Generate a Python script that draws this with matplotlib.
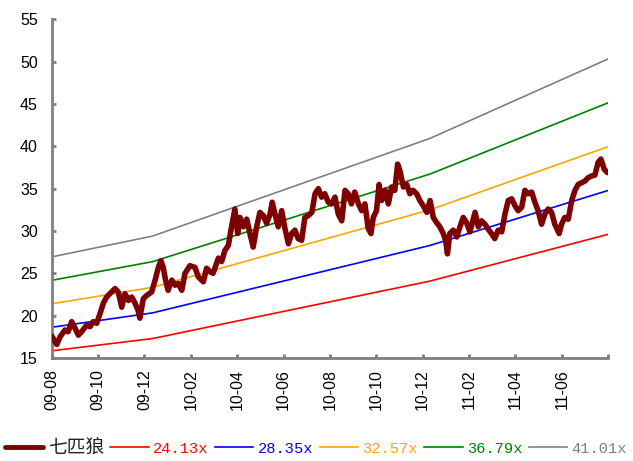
import matplotlib
matplotlib.use('Agg')
import matplotlib.pyplot as plt
from matplotlib.font_manager import FontProperties

# 时间轴：距 2009-08 的月数
t_month = [0.00, 0.22, 0.36, 0.57, 0.71, 0.86, 1.01, 1.15, 1.29, 1.51, 1.65, 1.79, 1.94,
           2.09, 2.23, 2.37, 2.51, 2.73, 2.87, 3.02, 3.16, 3.31, 3.45, 3.59, 3.73, 3.80,
           3.95, 4.10, 4.31, 4.46, 4.60, 4.71, 4.81, 4.91, 5.02, 5.18, 5.32, 5.46, 5.61,
           5.75, 5.96, 6.18, 6.32, 6.54, 6.68, 6.82, 6.96, 7.19, 7.33, 7.47, 7.62, 7.73,
           7.83, 7.90, 8.02, 8.12, 8.27, 8.41, 8.55, 8.69, 8.84, 8.98, 9.13, 9.27, 9.42,
           9.51, 9.63, 9.77, 9.92, 10.06, 10.21, 10.35, 10.49, 10.63, 10.78, 10.92, 11.06,
           11.22, 11.36, 11.50, 11.64, 11.78, 11.93, 12.07, 12.22, 12.36, 12.51, 12.65,
           12.79, 12.93, 13.07, 13.23, 13.37, 13.51, 13.65, 13.77, 13.87, 14.01, 14.12,
           14.23, 14.38, 14.52, 14.66, 14.80, 14.92, 15.02, 15.17, 15.31, 15.45, 15.59,
           15.74, 15.88, 16.02, 16.18, 16.32, 16.46, 16.60, 16.74, 16.89, 16.99, 17.07,
           17.17, 17.32, 17.47, 17.61, 17.75, 17.89, 18.04, 18.26, 18.40, 18.54, 18.69,
           18.83, 18.97, 19.11, 19.26, 19.41, 19.55, 19.69, 19.84, 19.98, 20.12, 20.27,
           20.41, 20.55, 20.70, 20.84, 20.98, 21.13, 21.27, 21.42, 21.56, 21.70, 21.89,
           21.99, 22.13, 22.28, 22.43, 22.57, 22.71, 22.85, 23.00, 23.14, 23.29, 23.43,
           23.57, 23.69, 23.83, 23.97]

price = [17.6, 16.6, 17.5, 18.3, 18.1, 19.3, 18.5, 17.7, 18.1, 18.9, 18.7, 19.3, 19.1,
         20.3, 21.5, 22.2, 22.6, 23.2, 22.8, 21.0, 22.6, 21.8, 22.2, 21.5, 20.6, 19.7,
         22.0, 22.4, 22.8, 24.2, 25.7, 26.5, 25.7, 24.2, 23.0, 24.2, 23.6, 23.8, 23.0,
         25.0, 25.9, 25.7, 24.6, 24.0, 25.6, 25.2, 25.0, 26.8, 26.4, 27.7, 28.3, 30.1,
         31.6, 32.6, 29.7, 31.6, 30.5, 31.4, 29.7, 28.1, 30.5, 32.2, 31.8, 30.9, 32.0,
         33.4, 32.0, 30.5, 32.4, 30.3, 28.5, 29.7, 30.1, 29.1, 28.9, 31.6, 31.8,
         32.2, 34.4, 35.0, 34.0, 34.4, 33.4, 33.2, 34.0, 32.0, 31.2, 34.8,
         34.4, 33.2, 34.6, 33.2, 32.4, 33.2, 30.3, 29.7, 31.6, 32.4, 35.5,
         33.6, 34.8, 33.2, 35.2, 34.8, 37.9, 37.1, 35.2, 35.5, 34.4, 34.8,
         34.4, 33.6, 33.0, 32.2, 33.6, 31.6, 31.0, 30.5, 29.7, 28.9, 27.3,
         29.7, 30.1, 29.3, 30.5, 31.6, 31.0, 29.9, 32.2, 30.5, 31.2, 30.8,
         30.2, 29.7, 29.1, 30.1, 29.9, 32.0, 33.6, 33.8, 33.0, 32.4, 32.8,
         34.8, 34.4, 34.6, 33.4, 32.4, 30.8, 32.0, 32.6, 32.2, 30.8, 29.7,
         30.8, 31.6, 31.4, 33.6, 34.8, 35.5, 35.7, 35.9, 36.3, 36.5, 36.6,
         38.1, 38.5, 37.3, 36.9]

# PE 通道线拐点
band_t = [0.0, 4.35, 16.31, 24.0]
pe_24 = [15.85, 17.30, 24.08, 29.61]
pe_28 = [18.63, 20.33, 28.29, 34.79]
pe_32 = [21.40, 23.35, 32.50, 39.96]
pe_36 = [24.17, 26.38, 36.72, 45.14]
pe_41 = [26.94, 29.40, 40.93, 50.32]

band_labels = ['24.13x', '28.35x', '32.57x', '36.79x', '41.01x']
band_colors = ['#FF0000', '#0000FF', '#FFA500', '#008000', '#808080']

tick_pos = [0, 2, 4, 6, 8, 10, 12, 14, 16, 18, 20, 22, 24]
tick_labels = ['09-08', '09-10', '09-12', '10-02', '10-04', '10-06', '10-08',
               '10-10', '10-12', '11-02', '11-04', '11-06', '']

plt.rcParams['font.family'] = ['Liberation Sans', 'DejaVu Sans']

fig = plt.figure(figsize=(6.33, 4.61), dpi=100)
ax = fig.add_axes([0.0817, 0.2234, 0.879, 0.7347])

h_price, = ax.plot(t_month, price, color='#7F0000', lw=4.0, solid_joinstyle='round',
                   solid_capstyle='round', label='七匹狼', zorder=5)
handles = [h_price]
for vals, lab, c in zip([pe_24, pe_28, pe_32, pe_36, pe_41], band_labels, band_colors):
    h, = ax.plot(band_t, vals, color=c, lw=1.2, label=lab)
    handles.append(h)

ax.set_xlim(0, 24)
ax.set_ylim(15, 55)
ax.set_yticks(range(15, 56, 5))
ax.set_xticks(tick_pos)
ax.set_xticklabels(tick_labels, rotation=90)

for s in ['top', 'right']:
    ax.spines[s].set_visible(False)
for s in ['left', 'bottom']:
    ax.spines[s].set_color('#808080')
    ax.spines[s].set_linewidth(2.0)
ax.tick_params(axis='both', direction='in', length=3, width=2, color='#808080',
               labelsize=11.5, labelcolor='black')
ax.tick_params(axis='y', pad=10)
ax.tick_params(axis='x', pad=8)

leg = fig.legend(handles=handles, loc='center left', bbox_to_anchor=(0.008, 0.03),
                 ncol=6, frameon=False, fontsize=12, handlelength=2.3,
                 handletextpad=0.25, columnspacing=0.4, borderpad=0, borderaxespad=0)
leg.get_lines()[0].set_linewidth(3.5)
texts = leg.get_texts()
texts[0].set_fontproperties(FontProperties(family='Noto Sans CJK SC', size=13.5))
texts[0].set_color('#222222')
for t, c in zip(texts[1:], band_colors):
    t.set_fontproperties(FontProperties(family='Liberation Mono', size=11.1))
    t.set_color(c)

fig.savefig('out.png', dpi=100)
